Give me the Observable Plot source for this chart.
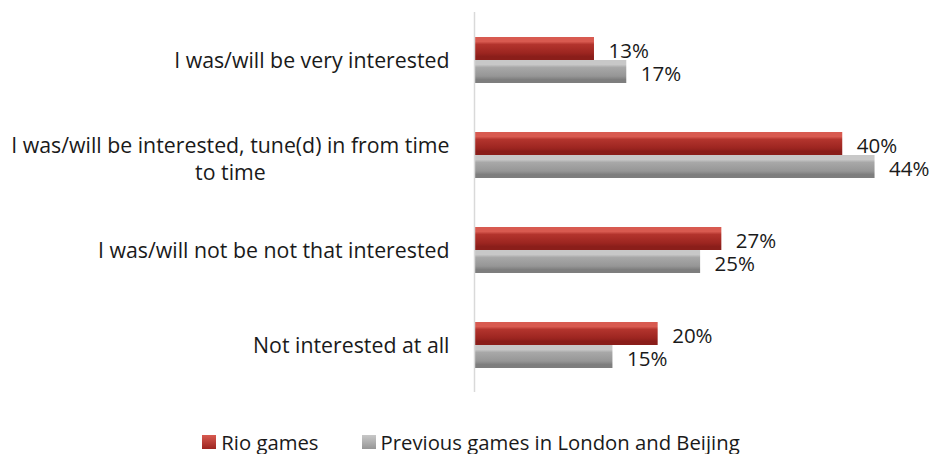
<!DOCTYPE html>
<html>
<head>
<meta charset="utf-8">
<script src="https://cdn.jsdelivr.net/npm/d3@7"></script>
<script src="https://cdn.jsdelivr.net/npm/@observablehq/plot@0.6"></script>
<style>
  html, body { margin: 0; padding: 0; background: #ffffff; }
  #chart { width: 933px; font-family: "Open Sans", Lato, sans-serif; }
  #legend { display: flex; justify-content: center; align-items: center; gap: 43px;
    font-family: "Open Sans", Lato, sans-serif; font-size: 20.3px; color: #1a1a1a;
    padding-top: 15px; line-height: 24px; padding-left: 9px; }
  #legend .item { display: flex; align-items: center; gap: 5px; }
  #legend .sw { width: 14px; height: 14px; display: inline-block; box-sizing: border-box; }
</style>
</head>
<body>
<div id="chart"></div>
<script>
// ---- data ----
const categories = [
  "I was/will be very interested",
  "I was/will be interested, tune(d) in from time to time",
  "I was/will not be not that interested",
  "Not interested at all"
];
const series = ["Rio games", "Previous games in London and Beijing"];
const rioValues = [13.0, 39.9, 26.8, 19.9];
const previousValues = [16.5, 43.4, 24.5, 15.0];
const rioLabels = ["13%", "40%", "27%", "20%"];
const previousLabels = ["17%", "44%", "25%", "15%"];
const seriesColors = [
  ["#d85a50", "#b3342d", "#9c2520", "#8a1e1a"],
  ["#c8c8c8", "#a8a8a8", "#969696", "#7e7e7e"]
];

// ---- table built from the arrays ----
const data = [];
categories.forEach((c, i) => {
  data.push({category: c, series: series[0], value: rioValues[i], label: rioLabels[i]});
  data.push({category: c, series: series[1], value: previousValues[i], label: previousLabels[i]});
});
const gradIds = ["gradRio", "gradPrev"];
const FONT = "'Open Sans', Lato, sans-serif";
const FS = 21.3;

const chart = Plot.plot({
  width: 933,
  height: 415,
  marginLeft: 474,
  marginRight: 16,
  marginTop: 10,
  marginBottom: 22,
  style: {fontFamily: FONT, color: "#1a1a1a", background: "#ffffff"},
  x: {domain: [0, 48], axis: null},
  y: {domain: series, axis: null, paddingInner: 0, paddingOuter: 1},
  fy: {domain: categories, padding: 0, axis: null},
  marks: [
    Plot.barX(data.filter(d => d.series === series[0]), {
      fy: "category", y: "series", x: "value", fill: `url(#${gradIds[0]})`
    }),
    Plot.barX(data.filter(d => d.series === series[1]), {
      fy: "category", y: "series", x: "value", fill: `url(#${gradIds[1]})`
    }),
    Plot.text(data, {
      fy: "category", y: "series", x: "value", text: "label",
      textAnchor: "start", dx: 14, dy: 2, fontSize: 20.5, fill: "#1a1a1a"
    }),
    Plot.ruleX([0], {stroke: "#d9d9d9", strokeWidth: 1.5}),
    Plot.axisFy({
      anchor: "left", tickSize: 0, tickPadding: 25, fontSize: FS, label: null,
      lineHeight: 1.27, fill: "#1a1a1a", dy: -1,
      tickFormat: d => d === categories[1]
        ? "I was/will be interested, tune(d) in from time\nto time" : d
    })
  ]
});

// gradient definitions for the bevelled bars
const svg = d3.select(chart);
const defs = svg.insert("defs", ":first-child");
gradIds.forEach((id, k) => {
  const g = defs.append("linearGradient").attr("id", id)
    .attr("x1", 0).attr("y1", 0).attr("x2", 0).attr("y2", 1);
  const c = seriesColors[k];
  [[0, c[0]], [0.2, c[0]], [0.32, c[1]], [0.7, c[2]], [0.85, c[3]], [1, c[3]]]
    .forEach(([o, col]) => g.append("stop").attr("offset", o).attr("stop-color", col));
});

document.getElementById("chart").appendChild(chart);

// centre the wrapped second line under the first, like the original
svg.selectAll("text").each(function () {
  const tspans = this.querySelectorAll("tspan");
  if (tspans.length === 2) {
    const w = tspans[0].getComputedTextLength();
    this.setAttribute("text-anchor", "middle");
    tspans.forEach(t => t.setAttribute("dx", -w / 2));
    const tr = this.getAttribute("transform") || "";
    this.setAttribute("transform", tr + " translate(0,4)");
  }
});

// legend below the chart
const legend = d3.select("#chart").append("div").attr("id", "legend");
series.forEach((s, k) => {
  const item = legend.append("div").attr("class", "item");
  item.append("span").attr("class", "sw")
    .style("background", `linear-gradient(${seriesColors[k][0]}, ${seriesColors[k][2]})`);
  item.append("span").text(s);
});
</script>
</body>
</html>
